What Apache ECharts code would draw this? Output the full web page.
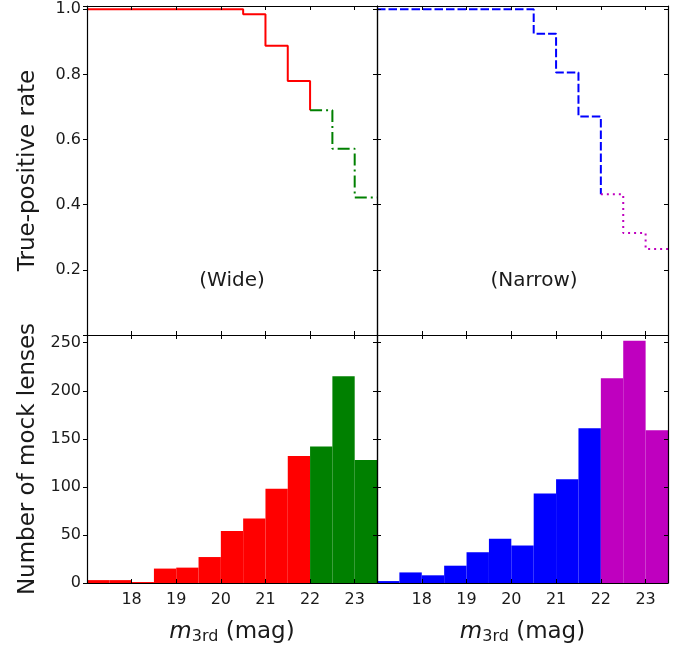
<!DOCTYPE html>
<html>
<head>
<meta charset="utf-8">
<script src="https://cdn.jsdelivr.net/npm/echarts@6/dist/echarts.min.js"></script>
<style>
  html, body { margin: 0; padding: 0; background: #fff; }
  #chart { width: 693px; height: 648px; }
</style>
</head>
<body>
<div id="chart"></div>
<script>
// Magnitude bins (left edges, width 0.5 mag)
const binStarts = [17, 17.5, 18, 18.5, 19, 19.5, 20, 20.5, 21, 21.5, 22, 22.5, 23];
const binWidth = 0.5;
const magMin = 17;
const magMax = 23.5;
const faintStart = 22;          // bins from here on use the second colour
const magTicks = [18, 19, 20, 21, 22, 23];

// Mock-lens counts per bin
const wideCounts   = [3, 3, 1, 15, 16, 27, 54, 67, 98, 132, 142, 215, 128];
const narrowCounts = [2, 11, 8, 18, 32, 46, 39, 93, 108, 161, 213, 252, 159];

// True-positive rate per bin
const wideRate   = [1, 1, 1, 1, 1, 1, 1, 0.985, 0.888, 0.780, 0.690, 0.572, 0.422];
const narrowRate = [1, 1, 1, 1, 1, 1, 1, 0.925, 0.806, 0.671, 0.432, 0.313, 0.264];

const panelLabels = ['(Wide)', '(Narrow)'];

const FONT = 'DejaVu Sans';
const TXT = '#1a1a1a';
const C_RED = '#ff0000', C_GREEN = '#008000', C_BLUE = '#0000ff', C_MAG = '#bf00bf';

const splitIdx = binStarts.indexOf(faintStart);

// Step outline: one point per bin left edge, closing at endX with endVal
function stepPoints(starts, rates, from, to, endX, endVal) {
  const pts = [];
  for (let i = from; i < to; i++) pts.push([starts[i], rates[i]]);
  pts.push([endX, endVal]);
  return pts;
}
function histData(counts, from, to) {
  const out = [];
  for (let i = from; i < to; i++) out.push([binStarts[i], binStarts[i] + binWidth, counts[i]]);
  return out;
}

const grids = [
  { left: 87,  top: 6,   width: 290, height: 329 },
  { left: 377, top: 6,   width: 291, height: 329 },
  { left: 87,  top: 335, width: 290, height: 248 },
  { left: 377, top: 335, width: 291, height: 248 }
];

const axisLineStyle = { color: '#000', width: 1.2 };

function xAxes(g, withLabels) {
  const base = {
    type: 'value', gridIndex: g, min: magMin, max: magMax, interval: 1, z: 10,
    axisLine: { show: true, onZero: false, lineStyle: axisLineStyle },
    axisTick: { show: true, inside: true, length: 4, lineStyle: { color: '#000', width: 1 } },
    splitLine: { show: false }
  };
  return [
    Object.assign({}, base, {
      position: 'bottom',
      axisLabel: {
        show: withLabels, margin: 9, color: TXT, fontFamily: FONT, fontSize: 16,
        formatter: v => magTicks.indexOf(v) >= 0 ? String(v) : ''
      },
      name: withLabels ? '{i|m}{s|3rd} (mag)' : '',
      nameLocation: 'middle', nameGap: 36,
      nameTextStyle: {
        color: TXT, fontFamily: FONT, fontSize: 23,
        rich: {
          i: { fontFamily: FONT, fontStyle: 'italic', fontSize: 23, color: TXT },
          s: { fontFamily: FONT, fontSize: 16, color: TXT, verticalAlign: 'bottom', padding: [10, 0, 0, 0] }
        }
      }
    }),
    Object.assign({}, base, { position: 'top', axisLabel: { show: false } })
  ];
}

function yAxes(g, kind, withLabels) {
  const isRate = kind === 'rate';
  const base = {
    type: 'value', gridIndex: g, z: 10,
    min: 0, max: isRate ? 1.01 : 258, interval: isRate ? 0.2 : 50,
    axisLine: { show: true, onZero: false, lineStyle: axisLineStyle },
    axisTick: { show: true, inside: true, length: 4, lineStyle: { color: '#000', width: 1 } },
    splitLine: { show: false }
  };
  const fmt = isRate
    ? (v => (v > 0.1 && v < 1.005) ? v.toFixed(1) : '')
    : (v => (v <= 250 && Math.abs(v % 50) < 1e-6) ? String(v) : '');
  return [
    Object.assign({}, base, {
      position: 'left',
      axisTick: withLabels
        ? { show: true, inside: false, length: 4, lineStyle: { color: '#000', width: 1 } }
        : base.axisTick,
      axisLabel: { show: withLabels, margin: 6, color: TXT, fontFamily: FONT, fontSize: 16, formatter: fmt },
      name: withLabels ? (isRate ? 'True-positive rate' : 'Number of mock lenses') : '',
      nameLocation: 'middle', nameGap: 47,
      nameTextStyle: { color: TXT, fontFamily: FONT, fontSize: 23 }
    }),
    Object.assign({}, base, { position: 'right', axisLabel: { show: false } })
  ];
}

const xAxis = [].concat(xAxes(0, false), xAxes(1, false), xAxes(2, true), xAxes(3, true));
const yAxis = [].concat(yAxes(0, 'rate', true), yAxes(1, 'rate', false),
                        yAxes(2, 'count', true), yAxes(3, 'count', false));

function stepSeries(g, data, color, dash) {
  return {
    type: 'line', xAxisIndex: 2 * g, yAxisIndex: 2 * g, step: 'end',
    data: data, symbol: 'none', silent: true, z: 3,
    lineStyle: { color: color, width: 2, type: dash }
  };
}

function histSeries(g, data, color) {
  return {
    type: 'custom', xAxisIndex: 2 * g, yAxisIndex: 2 * g, silent: true, z: 2,
    encode: { x: [0, 1], y: 2 },
    data: data,
    renderItem: (params, api) => {
      const p0 = api.coord([api.value(0), 0]);
      const p1 = api.coord([api.value(1), api.value(2)]);
      return {
        type: 'rect',
        shape: { x: p0[0], y: p1[1], width: p1[0] - p0[0], height: p0[1] - p1[1] },
        style: { fill: color }
      };
    }
  };
}

const nBins = binStarts.length;
const series = [
  stepSeries(0, stepPoints(binStarts, wideRate, 0, splitIdx, faintStart, wideRate[splitIdx]), C_RED, 'solid'),
  stepSeries(0, stepPoints(binStarts, wideRate, splitIdx, nBins, magMax, wideRate[nBins - 1]), C_GREEN, [12, 4, 2, 4]),
  stepSeries(1, stepPoints(binStarts, narrowRate, 0, splitIdx, faintStart, narrowRate[splitIdx]), C_BLUE, [8.5, 3]),
  stepSeries(1, stepPoints(binStarts, narrowRate, splitIdx, nBins, magMax, narrowRate[nBins - 1]), C_MAG, [2, 4]),
  histSeries(2, histData(wideCounts, 0, splitIdx), C_RED),
  histSeries(2, histData(wideCounts, splitIdx, nBins), C_GREEN),
  histSeries(3, histData(narrowCounts, 0, splitIdx), C_BLUE),
  histSeries(3, histData(narrowCounts, splitIdx, nBins), C_MAG)
];

const chart = echarts.init(document.getElementById('chart'), null, { renderer: 'canvas' });
chart.setOption({
  animation: false,
  backgroundColor: '#fff',
  grid: grids,
  xAxis: xAxis,
  yAxis: yAxis,
  series: series,
  graphic: [
    { type: 'text', x: 232, y: 281, style: { text: panelLabels[0], fill: TXT, font: '20px "DejaVu Sans"', textAlign: 'center', textVerticalAlign: 'middle' } },
    { type: 'text', x: 534, y: 281, style: { text: panelLabels[1], fill: TXT, font: '20px "DejaVu Sans"', textAlign: 'center', textVerticalAlign: 'middle' } }
  ]
});
</script>
</body>
</html>
